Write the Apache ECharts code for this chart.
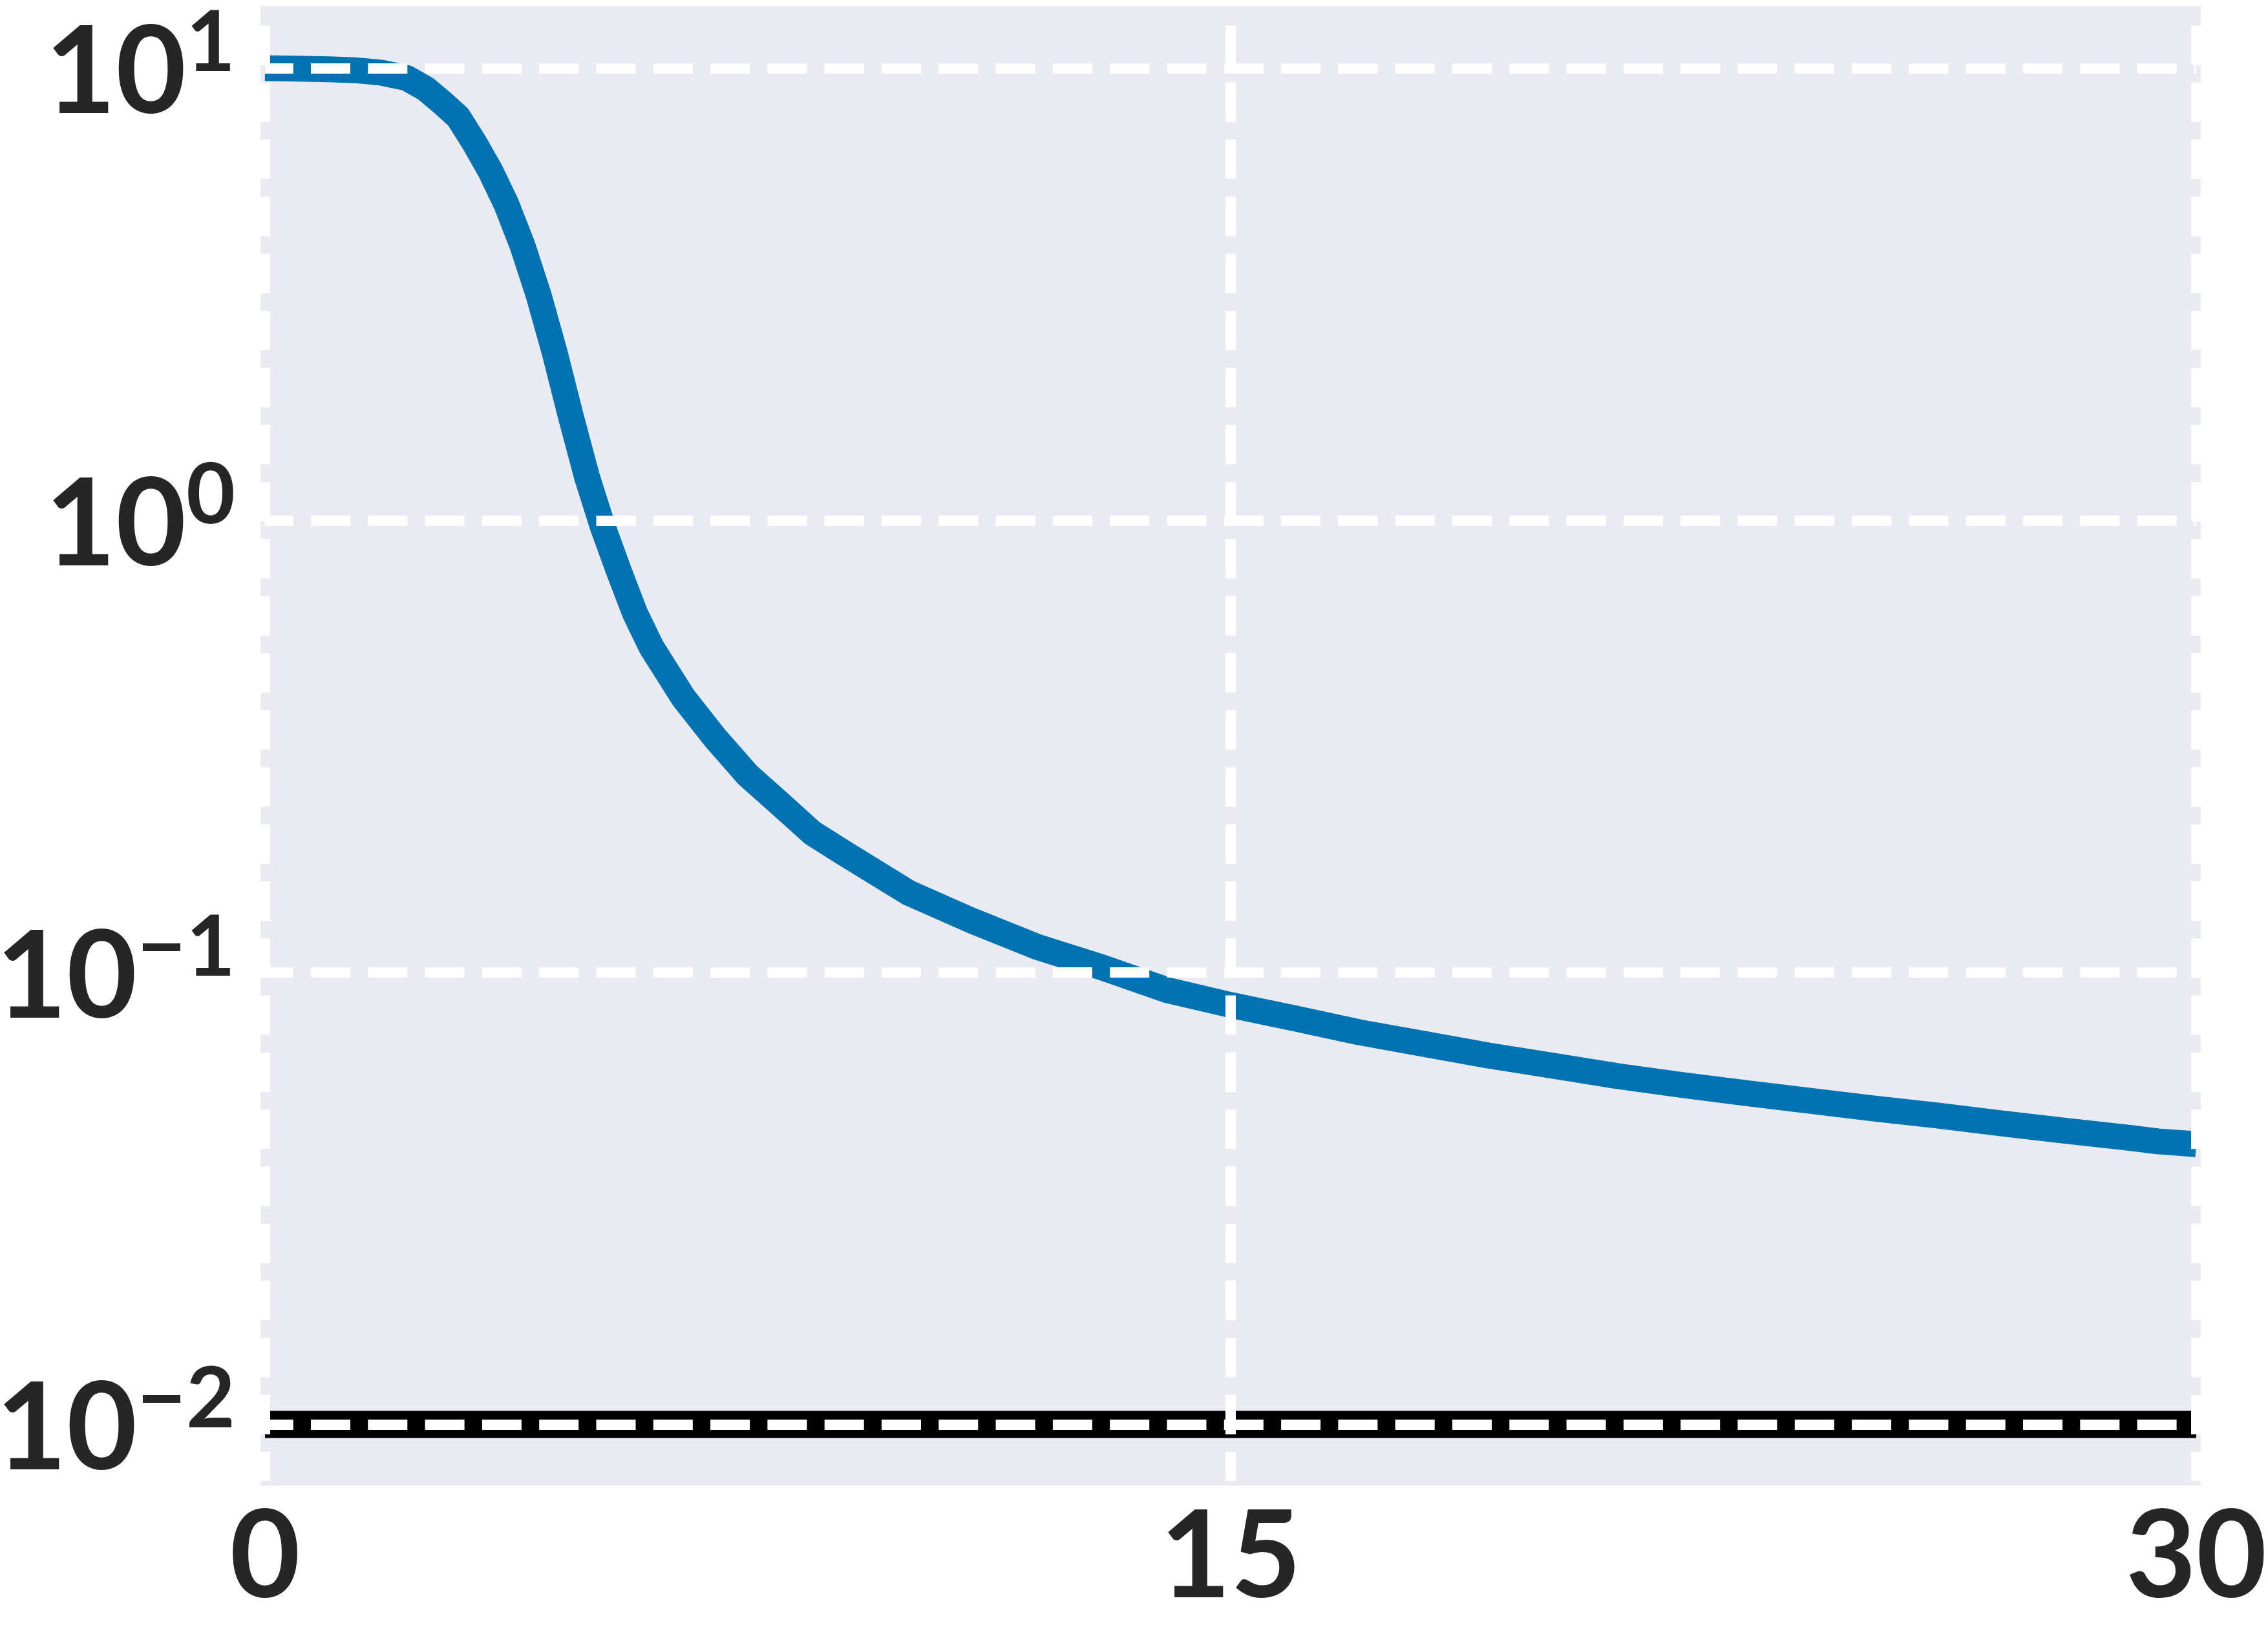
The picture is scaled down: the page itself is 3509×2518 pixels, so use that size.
<!DOCTYPE html>
<html>
<head>
<meta charset="utf-8">
<script src="https://cdn.jsdelivr.net/npm/echarts@6/dist/echarts.min.js"></script>
<style>
html,body{margin:0;padding:0;background:#fff;}
#chart{width:3509px;height:2518px;}
</style>
</head>
<body>
<div id="chart"></div>
<script>
// ---- data ----
const xValues = [0, 0.5, 1.0, 1.4, 1.8, 2.2, 2.5, 2.75, 3.0, 3.25, 3.5, 3.75, 4.0, 4.25, 4.5, 4.75, 5.0, 5.25, 5.5, 5.75, 6.0, 6.5, 7.0, 7.5, 8.0, 8.5, 9, 10, 11, 12, 13, 14, 15, 16, 17, 18, 19, 20, 21, 22, 23, 24, 25, 26, 27, 28, 29, 29.4, 30];
const lossValues = [10.0, 9.98, 9.95, 9.9, 9.78, 9.52, 9.0, 8.4, 7.8, 6.85, 5.93, 5.0, 4.05, 3.15, 2.35, 1.70, 1.25, 0.965, 0.77, 0.622, 0.525, 0.405, 0.329, 0.273, 0.236, 0.2035, 0.1835, 0.150, 0.1298, 0.1138, 0.1026, 0.0915, 0.0847, 0.0791, 0.0737, 0.0695, 0.0655, 0.0622, 0.0590, 0.0564, 0.0541, 0.0520, 0.0500, 0.0482, 0.0463, 0.0446, 0.0430, 0.0423, 0.0417];
const optimalX = [0, 30];
const optimalValues = [0.01, 0.01];
const xTicks = [0, 15, 30];
const yTickExponents = [-2, -1, 0, 1];

const lossData = xValues.map((x, i) => [x, lossValues[i]]);
const optimalData = optimalX.map((x, i) => [x, optimalValues[i]]);

const gridStyle = { color: '#ffffff', width: 16 };
const chart = echarts.init(document.getElementById('chart'), null, { renderer: 'canvas' });

function supLabel(v) {
  const e = Math.round(Math.log10(v));
  if (Math.abs(Math.log10(v) - e) > 1e-6 || yTickExponents.indexOf(e) < 0) return '';
  const es = e < 0 ? '\u2212' + Math.abs(e) : String(e);
  return '{b|10}{e|' + es + '}';
}

chart.setOption({
  animation: false,
  backgroundColor: '#ffffff',
  grid: {
    left: 410, top: 16, width: 2988, height: 2276,
    show: true, backgroundColor: '#EAEAF2', borderColor: '#EAEAF2', borderWidth: 14,
    containLabel: false, outerBoundsMode: 'none'
  },
  xAxis: {
    type: 'value', min: xTicks[0], max: xTicks[xTicks.length - 1], interval: xTicks[1] - xTicks[0],
    z: 5,
    axisLine: { show: false }, axisTick: { show: false },
    axisLabel: {
      margin: 25, color: '#262626', fontFamily: 'Lato', fontWeight: 'bold', fontSize: 188
    },
    splitLine: {
      show: true,
      lineStyle: { color: gridStyle.color, width: gridStyle.width, type: [61, 27.3], dashOffset: 64.8 }
    }
  },
  yAxis: {
    type: 'log', logBase: 10, min: 0.0075, max: 13.43,
    z: 5,
    axisLine: { show: false }, axisTick: { show: false },
    axisLabel: {
      margin: 46, showMinLabel: false, showMaxLabel: false,
      formatter: supLabel,
      rich: {
        b: { fontFamily: 'Lato', fontWeight: 'bold', fontSize: 188, color: '#262626', lineHeight: 206, verticalAlign: 'bottom' },
        e: { fontFamily: 'Lato', fontWeight: 'bold', fontSize: 131, color: '#262626', lineHeight: 131, verticalAlign: 'top' }
      }
    },
    splitLine: {
      show: true, showMinLine: false, showMaxLine: false,
      lineStyle: { color: gridStyle.color, width: gridStyle.width, type: [61, 27.3], dashOffset: 17.3 }
    }
  },
  series: [
    {
      type: 'line', data: optimalData, z: 2, showSymbol: false, symbol: 'none',
      lineStyle: { color: '#000000', width: 42, cap: 'butt' }, silent: true
    },
    {
      type: 'line', data: lossData, z: 3, showSymbol: false, symbol: 'none',
      lineStyle: { color: '#0173B2', width: 40, cap: 'butt', join: 'round' }, silent: true
    }
  ]
});
</script>
</body>
</html>
